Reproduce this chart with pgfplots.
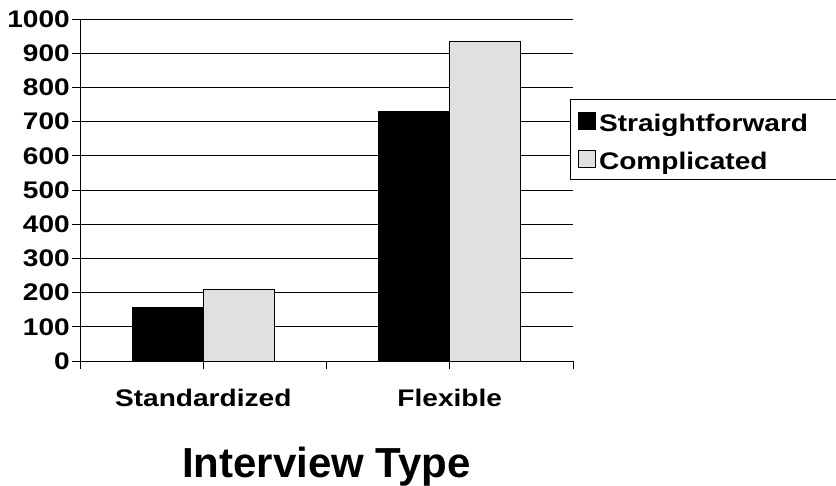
\documentclass[border=0pt]{standalone}
\usepackage{fontspec}
\setmainfont{Liberation Sans}[FakeStretch=1.17]
\newfontfamily\titlefont{Liberation Sans}
\usepackage{pgfplots}
\pgfplotsset{compat=1.18}
\definecolor{lgray}{HTML}{E0E0E0}
\newcommand{\tickfont}{\fontsize{24bp}{28bp}\selectfont\bfseries}
\begin{document}
\begin{tikzpicture}
\useasboundingbox (0,0) rectangle (836bp,486bp);
\begin{axis}[
 at={(80bp,125bp)}, anchor=south west,
 scale only axis, width=493bp, height=342bp,
 xmin=-0.5, xmax=1.5, ymin=0, ymax=1000,
 axis x line=bottom, axis y line=left,
 axis line style={-, black, line width=0.8bp},
 ybar=0pt, bar width=71bp,
 xtick={-0.5,0.5,1.5}, xticklabels={,,},
 x tick style={draw=black, line width=0.8bp},
 extra x ticks={0,1}, extra x tick labels={Standardized, Flexible},
 extra x tick style={tick style={draw=none}, xticklabel style={yshift=-17bp}},
 ytick={0,100,...,1000},
 ymajorgrids, grid style={black, line width=0.8bp},
 y tick style={draw=black, line width=0.8bp},
 major tick length=8bp, tick align=outside,
 /pgf/number format/assume math mode=true,
 /pgf/number format/1000 sep={},
 tick label style={font=\tickfont},
 yticklabel style={inner xsep=2bp},
 xlabel={Interview Type},
 xlabel style={font=\titlefont\fontsize{42bp}{48bp}\selectfont\bfseries, at={(axis description cs:0.5,0)}, anchor=base, yshift=-116bp},
 legend style={at={(0.994,0.766)}, anchor=north west, draw=black, line width=0.8bp,
   font=\tickfont, inner xsep=8bp, inner ysep=6bp, row sep=8bp, column sep=0bp,
   nodes={inner ysep=0bp, inner xsep=3bp, text height=26bp, text depth=4bp}},
 legend cell align=left,
 legend image code/.code={\draw[#1,/tikz/.cd,line width=0.6bp] (0bp,-8.5bp) rectangle (17bp,8.5bp);},
]
\addplot[fill=black, draw=black, line width=0.8bp] coordinates {(0,157) (1,729)};
\addplot[fill=lgray, draw=black, line width=0.8bp] coordinates {(0,210) (1,934)};
\legend{Straightforward\hspace*{40bp}, Complicated}
\end{axis}
\end{tikzpicture}
\end{document}
